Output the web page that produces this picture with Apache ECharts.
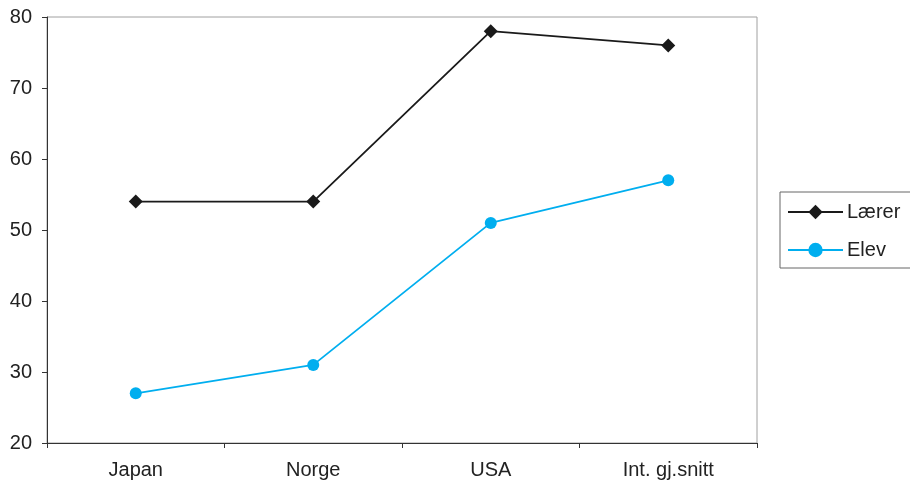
<!DOCTYPE html>
<html><head><meta charset="utf-8">
<script src="https://cdn.jsdelivr.net/npm/echarts@6/dist/echarts.min.js"></script>
<style>html,body{margin:0;padding:0;background:#fff}#c{width:910px;height:487px}</style>
</head><body><div id="c"></div>
<script>
const categories = ['Japan', 'Norge', 'USA', 'Int. gj.snitt'];
const laerer = [54, 54, 78, 76];
const elev = [27, 31, 51, 57];
const yTicks = [20, 30, 40, 50, 60, 70, 80];

const chart = echarts.init(document.getElementById('c'));
const font = 'Liberation Sans, Arial, sans-serif';
chart.setOption({
  animation: false,
  backgroundColor: '#fff',
  grid: { left: 47, top: 17, right: 153, bottom: 44, show: true, borderColor: '#a0a0a0', borderWidth: 1, backgroundColor: 'transparent' },
  legend: {
    orient: 'vertical', left: 780, top: 192,
    borderColor: '#666', borderWidth: 1,
    padding: [10, 12, 8, 7],
    itemWidth: 55, itemHeight: 18, itemGap: 18,
    textStyle: { fontFamily: font, fontSize: 20, color: '#222', padding: [0, 0, 0, -1] },
    data: ['Lærer', 'Elev']
  },
  xAxis: {
    type: 'category', data: categories, boundaryGap: true,
    axisLine: { lineStyle: { color: '#333', width: 1 } },
    axisTick: { show: true, length: 5, lineStyle: { color: '#333' } },
    axisLabel: { fontFamily: font, fontSize: 20, color: '#222', margin: 17 },
    splitLine: { show: false }
  },
  yAxis: {
    type: 'value', min: yTicks[0], max: yTicks[yTicks.length - 1], interval: 10,
    axisLine: { show: true, lineStyle: { color: '#333', width: 1 } },
    axisTick: { show: true, length: 5, lineStyle: { color: '#333' } },
    axisLabel: { fontFamily: font, fontSize: 20, color: '#222', margin: 15 },
    splitLine: { show: false }
  },
  series: [
    { name: 'Lærer', type: 'line', data: laerer, symbol: 'diamond', symbolSize: 14,
      lineStyle: { color: '#1a1a1a', width: 1.8 }, itemStyle: { color: '#1a1a1a' } },
    { name: 'Elev', type: 'line', data: elev, symbol: 'circle', symbolSize: 12,
      lineStyle: { color: '#00aeef', width: 1.8 }, itemStyle: { color: '#00aeef' } }
  ]
});
</script></body></html>
